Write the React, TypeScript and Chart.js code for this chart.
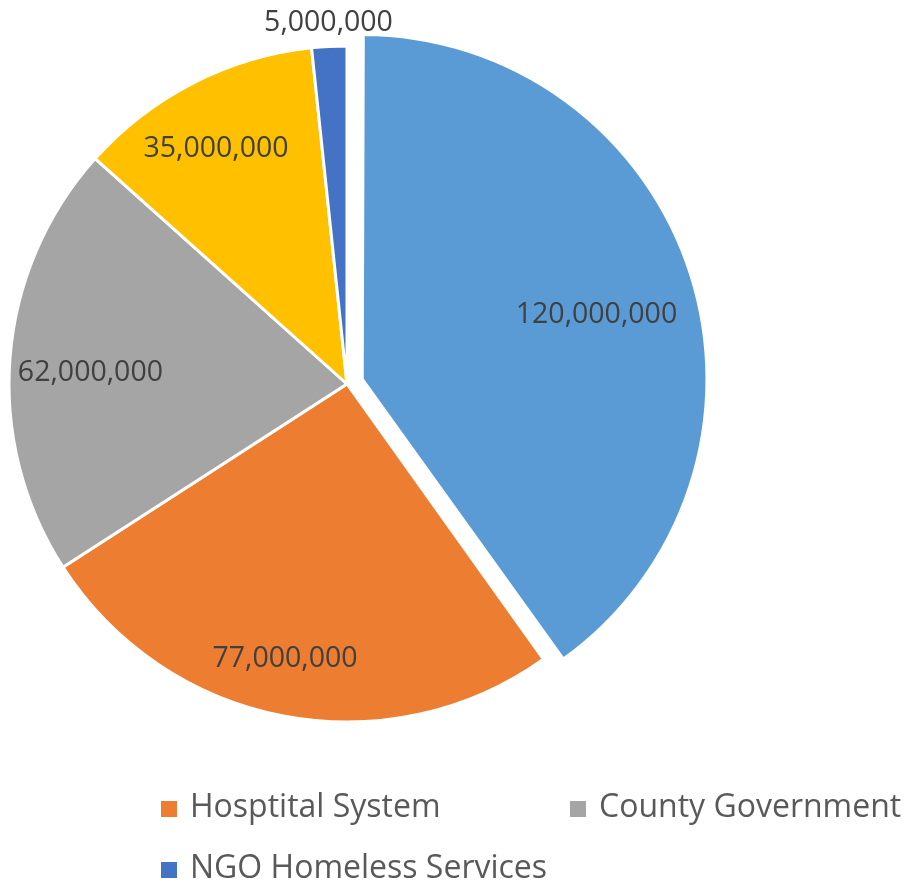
import React, { useEffect, useRef } from "react";
import { Chart, registerables } from "chart.js";

Chart.register(...registerables);

// Categories (two slices have no legend entry in the reference)
const categories = ["", "Hosptital System", "County Government", "", "NGO Homeless Services"];
const values = [120000000, 77000000, 62000000, 35000000, 5000000];
const colors = ["#5B9BD5", "#ED7D31", "#A5A5A5", "#FFC000", "#4472C4"];

const FONT = "'Open Sans', 'DejaVu Sans', sans-serif";

// label placement within each slice (style only): fraction of radius, fraction of slice angle
const labelRadius = [0.72, 0.828, 0.76, 0.801, 1.075];
const labelAngle = [0.514, 0.521, 0.477, 0.456, 0.515];

const sliceLabels = {
  id: "sliceLabels",
  afterDatasetsDraw(chart: any) {
    const ctx = chart.ctx;
    const meta = chart.getDatasetMeta(0);
    const ds = chart.data.datasets[0];
    ctx.save();
    ctx.font = `28.5px ${FONT}`;
    ctx.fillStyle = "#404040";
    ctx.textAlign = "center";
    ctx.textBaseline = "alphabetic";
    meta.data.forEach((arc: any, i: number) => {
      const { x, y, startAngle, endAngle, outerRadius } = arc.getProps(
        ["x", "y", "startAngle", "endAngle", "outerRadius"],
        true
      );
      const mid = (startAngle + endAngle) / 2;
      const shift = (arc.options.offset || 0) / 4;
      const ox = x + Math.cos(mid) * shift;
      const oy = y + Math.sin(mid) * shift;
      const a = startAngle + (endAngle - startAngle) * labelAngle[i];
      const r = outerRadius * labelRadius[i];
      const cx = ox + Math.cos(a) * r;
      const cy = oy + Math.sin(a) * r;
      ctx.fillText(Number(ds.data[i]).toLocaleString("en-US"), cx, cy + 10);
    });
    ctx.restore();
  },
};

const gridLegend = {
  id: "gridLegend",
  afterDraw(chart: any, _args: any, opts: any) {
    const ctx = chart.ctx;
    const ds = chart.data.datasets[0];
    const items = (chart.data.labels as string[])
      .map((t, i) => ({ t, c: ds.backgroundColor[i] }))
      .filter((it) => it.t);
    ctx.save();
    ctx.font = `32px ${FONT}`;
    ctx.textAlign = "left";
    ctx.textBaseline = "alphabetic";
    items.forEach((it, k) => {
      const col = k % opts.columns;
      const row = Math.floor(k / opts.columns);
      const bx = opts.left + col * opts.colWidth;
      const by = opts.top + row * opts.rowHeight;
      ctx.fillStyle = it.c;
      ctx.fillRect(bx, by, opts.box, opts.box);
      ctx.fillStyle = "#595959";
      ctx.fillText(it.t, bx + opts.textGap, by + opts.box);
    });
    ctx.restore();
  },
};

export default function App() {
  const ref = useRef<HTMLCanvasElement>(null);
  useEffect(() => {
    if (!ref.current) return;
    const chart = new Chart(ref.current, {
      type: "pie",
      data: {
        labels: categories,
        datasets: [
          {
            data: values,
            backgroundColor: colors,
            borderColor: "#ffffff",
            borderWidth: 3,
            offset: [64, 0, 0, 0, 0],
            hoverOffset: 0,
          },
        ],
      },
      options: {
        responsive: false,
        animation: false,
        devicePixelRatio: 1,
        radius: 338,
        layout: { padding: { left: 0, top: 0, right: 219, bottom: 119 } },
        plugins: {
          legend: { display: false },
          tooltip: { enabled: false },
          gridLegend: {
            left: 161,
            top: 801,
            colWidth: 409,
            rowHeight: 61,
            columns: 2,
            box: 16,
            textGap: 29,
          },
        } as any,
      } as any,
      plugins: [sliceLabels, gridLegend],
    });
    return () => chart.destroy();
  }, []);
  return (
    <div style={{ position: "absolute", left: 0, top: 0, width: 913, height: 887, background: "#fff" }}>
      <canvas ref={ref} width={913} height={887} />
    </div>
  );
}
